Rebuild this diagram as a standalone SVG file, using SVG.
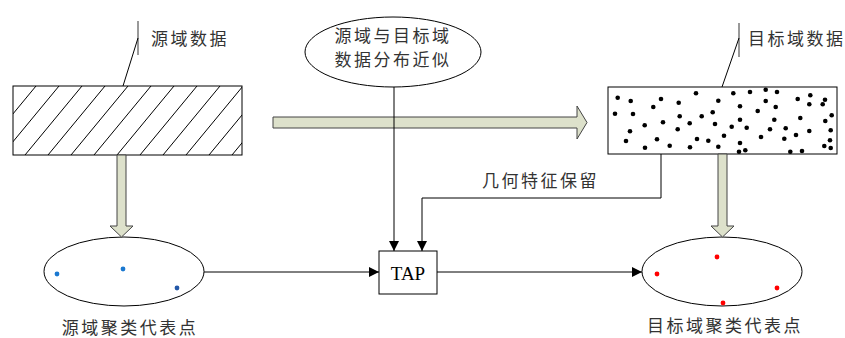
<svg xmlns="http://www.w3.org/2000/svg" width="845" height="338" viewBox="0 0 845 338">
<style>
.t{font-family:"Noto Sans CJK SC","Noto Sans",sans-serif;font-size:17px;fill:#333;letter-spacing:2.5px}
.ln{stroke:#000;stroke-width:1;fill:none}
.blk{fill:#dde1cb;stroke:#444;stroke-width:1}
.d{fill:#000}
</style>
<defs>
<marker id="ah" viewBox="0 0 10 10" refX="10" refY="5" markerWidth="10" markerHeight="10" markerUnits="userSpaceOnUse" orient="auto">
<path d="M0,0 L10,5 L0,10 z" fill="#000"/>
</marker>
<clipPath id="srcClip"><rect x="13" y="86" width="229" height="69"/></clipPath>
</defs>
<rect width="845" height="338" fill="#fff"/>

<g id="source-data">
<rect x="13" y="86" width="229" height="69" fill="#fff"/>
<g clip-path="url(#srcClip)" stroke="#000" stroke-width="1">
<line x1="-21" y1="155" x2="36" y2="86"/>
<line x1="2" y1="155" x2="59" y2="86"/>
<line x1="25" y1="155" x2="82" y2="86"/>
<line x1="48" y1="155" x2="105" y2="86"/>
<line x1="71" y1="155" x2="128" y2="86"/>
<line x1="94" y1="155" x2="151" y2="86"/>
<line x1="117" y1="155" x2="174" y2="86"/>
<line x1="140" y1="155" x2="197" y2="86"/>
<line x1="163" y1="155" x2="220" y2="86"/>
<line x1="186" y1="155" x2="243" y2="86"/>
<line x1="209" y1="155" x2="266" y2="86"/>
<line x1="232" y1="155" x2="289" y2="86"/>
</g>
<rect x="13" y="86" width="229" height="69" class="ln"/>
<line x1="138" y1="21" x2="138" y2="55" stroke="#555" stroke-width="1.2"/>
<line x1="138" y1="38" x2="123" y2="86" class="ln"/>
<text class="t" x="151" y="45">源域数据</text>
</g>

<g id="target-data">
<rect x="608" y="87" width="229" height="67" fill="#fff" class="ln"/>
<g class="d">
<circle cx="617.7" cy="97.7" r="2.3"/><circle cx="630.7" cy="101" r="2.3"/><circle cx="661" cy="99" r="2.3"/><circle cx="678.7" cy="102.7" r="2.3"/><circle cx="696" cy="93.3" r="2.3"/><circle cx="718.3" cy="100.7" r="2.3"/><circle cx="733.3" cy="93.3" r="2.3"/><circle cx="750" cy="92" r="2.3"/><circle cx="765.7" cy="89.7" r="2.3"/><circle cx="777" cy="92" r="2.3"/><circle cx="765.7" cy="101" r="2.3"/><circle cx="797.7" cy="99" r="2.3"/><circle cx="810.3" cy="95.3" r="2.3"/><circle cx="825" cy="99.7" r="2.3"/>
<circle cx="653.3" cy="107" r="2.3"/><circle cx="740" cy="106.3" r="2.3"/><circle cx="757.7" cy="111" r="2.3"/><circle cx="775.7" cy="107" r="2.3"/><circle cx="809.3" cy="104.3" r="2.3"/><circle cx="822.7" cy="104.3" r="2.3"/>
<circle cx="615" cy="113.7" r="2.3"/><circle cx="633" cy="114" r="2.3"/><circle cx="679.7" cy="116.3" r="2.3"/><circle cx="701.7" cy="116.3" r="2.3"/><circle cx="712.7" cy="112.3" r="2.3"/><circle cx="740" cy="119.7" r="2.3"/><circle cx="774.3" cy="119.7" r="2.3"/><circle cx="800.3" cy="118" r="2.3"/><circle cx="831.7" cy="115.3" r="2.3"/><circle cx="825.3" cy="121" r="2.3"/>
<circle cx="644.7" cy="125.3" r="2.3"/><circle cx="663" cy="122.3" r="2.3"/><circle cx="689.7" cy="123.3" r="2.3"/><circle cx="715" cy="124" r="2.3"/><circle cx="731.7" cy="126.7" r="2.3"/><circle cx="746.7" cy="127.7" r="2.3"/><circle cx="770" cy="129.3" r="2.3"/><circle cx="785.7" cy="128.3" r="2.3"/><circle cx="809.3" cy="131" r="2.3"/><circle cx="830.7" cy="130.3" r="2.3"/>
<circle cx="630" cy="131.3" r="2.3"/><circle cx="677.7" cy="129.3" r="2.3"/><circle cx="724" cy="135.7" r="2.3"/><circle cx="761" cy="137" r="2.3"/><circle cx="784.3" cy="138.7" r="2.3"/><circle cx="796" cy="135" r="2.3"/>
<circle cx="626" cy="141" r="2.3"/><circle cx="657" cy="139.3" r="2.3"/><circle cx="697" cy="139" r="2.3"/><circle cx="708.3" cy="140.7" r="2.3"/><circle cx="740" cy="143" r="2.3"/><circle cx="830" cy="140.3" r="2.3"/>
<circle cx="645" cy="147.7" r="2.3"/><circle cx="669.7" cy="145.7" r="2.3"/><circle cx="690" cy="147.3" r="2.3"/><circle cx="718.3" cy="146.7" r="2.3"/><circle cx="739" cy="151.7" r="2.3"/><circle cx="745.3" cy="150.3" r="2.3"/><circle cx="790.3" cy="151.7" r="2.3"/><circle cx="802" cy="151" r="2.3"/><circle cx="824.3" cy="146" r="2.3"/><circle cx="830.7" cy="148" r="2.3"/>
</g>
<line x1="739" y1="23" x2="739" y2="57" stroke="#555" stroke-width="1.2"/>
<line x1="739" y1="38" x2="722" y2="87" class="ln"/>
<text class="t" x="748" y="45">目标域数据</text>
</g>

<g id="similar-distribution">
<ellipse cx="393" cy="52" rx="88" ry="35" fill="#fff" class="ln"/>
<text class="t" x="393" y="42" text-anchor="middle">源域与目标域</text>
<text class="t" x="393" y="66" text-anchor="middle">数据分布近似</text>
</g>

<g id="tap">
<rect x="379" y="251" width="58" height="43" fill="#fff" class="ln"/>
<text x="408" y="279.5" text-anchor="middle" font-family="Liberation Serif, serif" font-size="19" fill="#000">TAP</text>
</g>

<g id="source-centers">
<ellipse cx="124" cy="271.5" rx="80" ry="34.5" fill="#fff" class="ln"/>
<circle cx="57" cy="274" r="2.4" fill="#1a78d0"/>
<circle cx="123" cy="269" r="2.4" fill="#1a78d0"/>
<circle cx="177" cy="288" r="2.4" fill="#2458a8"/>
<text class="t" x="130" y="334" text-anchor="middle">源域聚类代表点</text>
</g>

<g id="target-centers">
<ellipse cx="722" cy="271.5" rx="80" ry="34.5" fill="#fff" class="ln"/>
<circle cx="657" cy="274" r="2.4" fill="#f00"/>
<circle cx="717" cy="257" r="2.4" fill="#f00"/>
<circle cx="777" cy="288" r="2.4" fill="#f00"/>
<circle cx="723" cy="303" r="2.4" fill="#f00"/>
<text class="t" x="725" y="332" text-anchor="middle">目标域聚类代表点</text>
</g>

<g id="connectors">
<path class="blk" d="M273,117 L577,117 L577,106 L587,122.5 L577,139 L577,128 L273,128 z"/>
<path class="blk" d="M117,155 L126,155 L126,226 L133,226 L121.5,237 L110,226 L117,226 z"/>
<path class="blk" d="M718,154 L727,154 L727,226 L734,226 L722.5,237 L711,226 L718,226 z"/>
<line x1="394" y1="87" x2="394" y2="251" class="ln" marker-end="url(#ah)"/>
<polyline points="661,154 661,198 422,198 422,251" class="ln" marker-end="url(#ah)"/>
<line x1="204" y1="272" x2="379" y2="272" class="ln" marker-end="url(#ah)"/>
<line x1="437" y1="272" x2="642" y2="272" class="ln" marker-end="url(#ah)"/>
<text class="t" x="482" y="187">几何特征保留</text>
</g>
</svg>
